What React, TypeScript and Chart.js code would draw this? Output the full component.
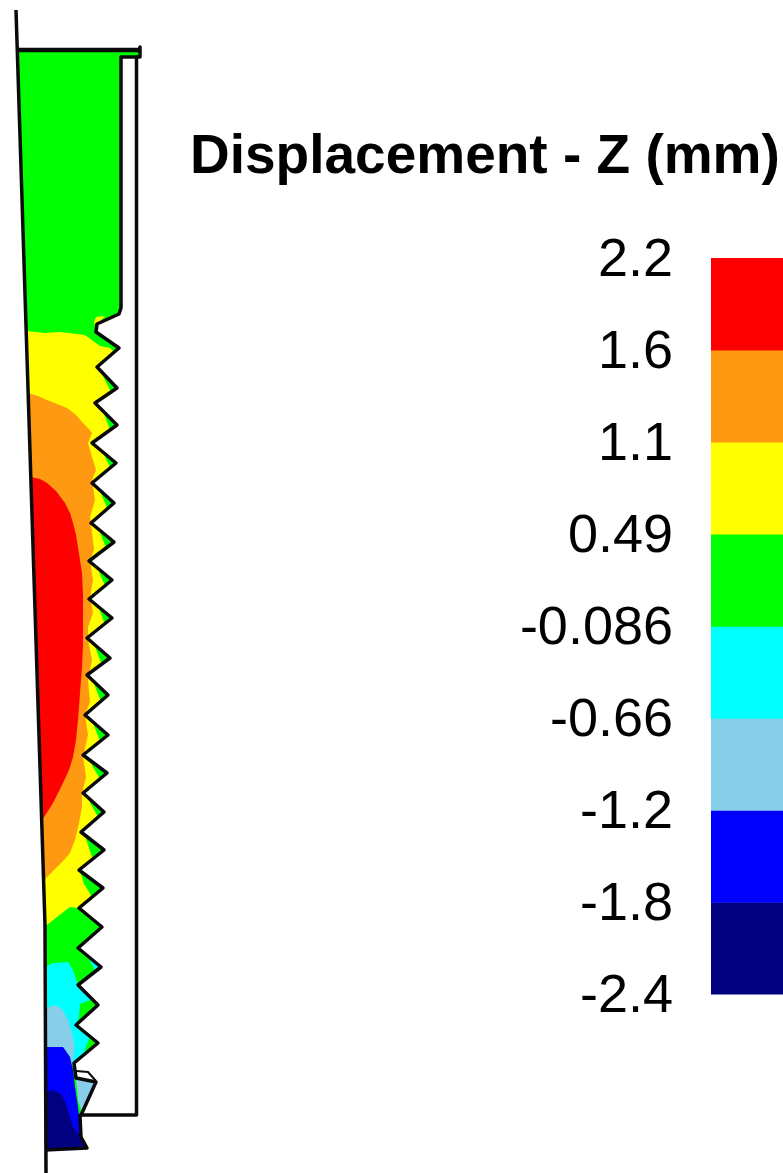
import React, { useEffect, useRef } from "react";
import { Chart, registerables } from "chart.js";

Chart.register(...registerables);

type P = [number, number];

const titleText = "Displacement - Z (mm)";
const legendTicks = ["2.2", "1.6", "1.1", "0.49", "-0.086", "-0.66", "-1.2", "-1.8", "-2.4"];
const legendColors = ["#ff0000", "#ff9911", "#ffff00", "#00ff00", "#00ffff", "#87ceeb", "#0000ff", "#000080"];
const legendBands: [number, number][] = [[0, 1], [1, 2], [2, 3], [3, 4], [4, 5], [5, 6], [6, 7], [7, 8]];

const leftEdge: P[] = [[16, 10], [45, 925], [46, 1173]];
const topBar: P[] = [[18, 50], [140, 50]];
const topCap: P[] = [[140, 47], [140, 57], [121, 57]];
const rightWall: P[] = [[136.5, 57], [136.5, 1115], [81, 1115]];
const threadProfile: P[] = [
  [121, 57], [121, 308], [119, 314], [97, 324], [96, 332], [119, 348], [97, 367], [117, 388], [95, 403],
  [117, 425], [92, 443], [116, 463], [92, 483], [114, 503], [91, 523], [114, 542], [89, 561], [112, 580],
  [89, 599], [112, 618], [87, 638], [110, 658], [87, 675], [108, 695], [85, 715], [108, 735], [83, 755],
  [107, 773], [83, 793], [104, 812], [81, 832], [104, 850], [79, 870], [103, 888], [79, 908], [102, 927],
  [78, 948], [101, 967], [78, 985], [98, 1005], [76, 1025], [98, 1043], [74, 1063], [76, 1078], [96, 1082],
  [82, 1113], [80, 1116], [81, 1137], [87, 1148], [45, 1150],
];
const bodyGreen: P[] = [[18, 50], [140, 50], [140, 57], ...threadProfile, [45, 925]];
const yellowSpot: P[] = [[94, 322], [96, 317], [105, 316], [97, 325], [96, 329]];
const yellowBand: P[] = [
  [27, 331], [45, 333], [60, 332], [85, 335], [93, 341], [100, 346], [110, 348], [114, 352], [97, 367],
  [101, 372], [111, 392], [95, 403], [103, 411], [110, 430], [92, 443], [103, 453], [110, 467], [92, 483],
  [100, 491], [107, 508], [91, 523], [99, 530], [106, 548], [89, 561], [98, 569], [105, 586], [89, 599],
  [99, 608], [105, 625], [87, 638], [94, 644], [102, 665], [87, 675], [93, 681], [101, 702], [85, 715],
  [93, 723], [100, 741], [83, 755], [90, 762], [100, 779], [83, 793], [87, 797], [98, 817], [81, 832],
  [85, 836], [93, 860], [79, 870], [80, 871], [84, 884], [92, 897], [79, 908], [70, 907], [57, 917], [47, 925], [45, 925],
];
const orangeBand: P[] = [
  [28, 393], [38, 396], [47, 400], [57, 404], [67, 408], [76, 415], [83, 423], [88, 428], [92, 433], [88, 443],
  [92, 457], [96, 470], [92, 480], [95, 500], [90, 517], [92, 533], [94, 550], [90, 560], [93, 580], [90, 597],
  [93, 613], [88, 627], [88, 640], [92, 660], [88, 680], [90, 702], [85, 715], [88, 735], [83, 757], [86, 777],
  [82, 793], [82, 807], [79, 823], [75, 840], [70, 853], [64, 860], [57, 867], [50, 874], [44, 880],
];
const redBand: P[] = [
  [31, 477], [40, 479], [47, 483], [56, 491], [65, 503], [70, 513], [73, 523], [76, 535], [78, 547], [80, 560],
  [82, 573], [83, 595], [83, 620], [83, 645], [82, 667], [81, 680], [80, 693], [79, 707], [78, 720], [76, 740],
  [73, 757], [69, 770], [63, 783], [58, 793], [53, 803], [48, 811], [42, 820],
];
const cyanBand: P[] = [
  [45, 967], [53, 963], [68, 962], [73, 970], [78, 985], [93, 999], [80, 1004], [79, 1017], [76, 1025], [90, 1036],
  [83, 1055], [75, 1062], [46, 1062],
];
const cyanTip: P[] = [[88, 958], [100, 965], [95, 970]];
const skyBand: P[] = [[46, 1008], [55, 1005], [63, 1010], [68, 1020], [73, 1037], [75, 1048], [73, 1058], [74, 1065], [46, 1065]];
const skyTooth: P[] = [[76, 1078], [96, 1082], [82, 1113], [78, 1100]];
const blueBand: P[] = [[46, 1047], [63, 1047], [70, 1057], [73, 1070], [75, 1087], [78, 1107], [80, 1123], [81, 1137], [60, 1148], [46, 1148]];
const navyBand: P[] = [[46, 1092], [53, 1090], [62, 1095], [67, 1107], [73, 1127], [81, 1137], [87, 1148], [46, 1150]];
const toothGap: P[] = [[76, 1071], [88, 1072], [96, 1081], [88, 1078], [76, 1077]];
const gapLine: P[] = [[76, 1071], [88, 1072], [96, 1081]];

const fills: [P[], string][] = [
  [bodyGreen, "#00ff00"],
  [yellowSpot, "#ffff00"],
  [yellowBand, "#ffff00"],
  [orangeBand, "#ff9911"],
  [redBand, "#ff0000"],
  [cyanBand, "#00ffff"],
  [cyanTip, "#00ffff"],
  [skyBand, "#87ceeb"],
  [skyTooth, "#87ceeb"],
  [blueBand, "#0000ff"],
  [navyBand, "#000080"],
  [toothGap, "#ffffff"],
];
const strokes: [P[], number][] = [
  [leftEdge, 3.5],
  [topBar, 4.5],
  [topCap, 3.5],
  [rightWall, 3.5],
  [threadProfile, 3.5],
  [gapLine, 2],
];

const pts = (a: P[]) => a.map(([x, y]) => ({ x, y }));

export default function App() {
  const plotRef = useRef<HTMLCanvasElement>(null);
  const legendRef = useRef<HTMLCanvasElement>(null);

  useEffect(() => {
    const total = fills.length + strokes.length;
    const plot = new Chart(plotRef.current!, {
      type: "scatter",
      data: {
        datasets: [
          ...fills.map(([a, color], i) => ({
            data: pts(a),
            showLine: true,
            fill: "shape" as const,
            backgroundColor: color,
            borderWidth: 0,
            borderColor: color,
            pointRadius: 0,
            tension: 0,
            order: total - i,
          })),
          ...strokes.map(([a, w], i) => ({
            data: pts(a),
            showLine: true,
            fill: false,
            borderColor: "#0a0a0a",
            borderWidth: w,
            borderJoinStyle: "round" as const,
            pointRadius: 0,
            tension: 0,
            order: strokes.length - i,
          })),
        ],
      },
      options: {
        animation: false,
        responsive: false,
        layout: { padding: 0 },
        plugins: { legend: { display: false }, tooltip: { enabled: false } },
        scales: {
          x: { type: "linear", min: 0, max: 783, display: false },
          y: { type: "linear", min: 0, max: 1173, reverse: true, display: false },
        },
      },
    });

    const legend = new Chart(legendRef.current!, {
      type: "bar",
      data: {
        labels: [""],
        datasets: legendBands.map((b, i) => ({
          data: [b],
          backgroundColor: legendColors[i],
          borderWidth: 0,
          barPercentage: 1,
          categoryPercentage: 1,
          grouped: false,
        })),
      },
      options: {
        animation: false,
        responsive: false,
        layout: { padding: { bottom: 40 } },
        plugins: {
          legend: { display: false },
          tooltip: { enabled: false },
          title: {
            display: true,
            text: titleText,
            align: "start",
            color: "#000000",
            font: { family: "Liberation Sans", size: 55, weight: "bold", lineHeight: 1.2 },
            padding: { top: 5, bottom: 67 },
          },
        },
        scales: {
          x: { display: false },
          y: {
            type: "linear",
            reverse: true,
            min: 0,
            max: 8,
            afterFit: (s: any) => {
              s.width = 521;
            },
            border: { display: false },
            grid: { display: false, drawTicks: false, tickLength: 0 },
            ticks: {
              stepSize: 1,
              padding: 38,
              labelOffset: 3,
              autoSkip: false,
              color: "#000000",
              font: { family: "Liberation Sans", size: 54 },
              callback: (v: any) => legendTicks[Number(v)],
            },
          },
        },
      },
    });

    return () => {
      plot.destroy();
      legend.destroy();
    };
  }, []);

  return (
    <div>
      <canvas ref={plotRef} width={783} height={1173} style={{ position: "absolute", left: 0, top: 0, display: "block" }} />
      <canvas ref={legendRef} width={593} height={945} style={{ position: "absolute", left: 190, top: 120, display: "block" }} />
    </div>
  );
}
